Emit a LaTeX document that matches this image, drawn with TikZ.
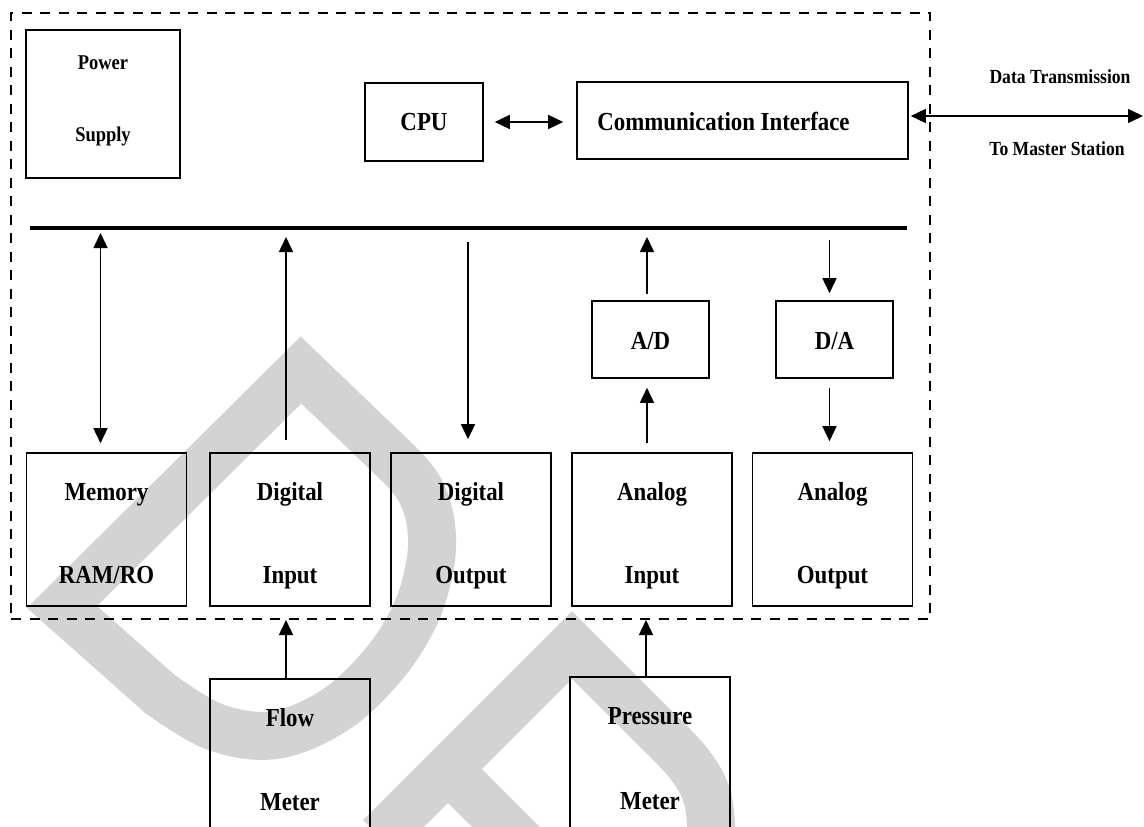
\documentclass[tikz,border=0pt]{standalone}
\usepackage{fontspec}
\newfontfamily\blockfont[FakeStretch=0.88]{Liberation Serif}
\usetikzlibrary{arrows.meta,calc}
\definecolor{wmgray}{RGB}{211,211,211}
\begin{document}
\begin{tikzpicture}[x=1pt,y=-1pt,
  >={Triangle[length=15pt,width=14pt]},
  blk/.style={draw,line width=1.6pt,rectangle,inner sep=0pt},
  txt/.style={font=\blockfont\bfseries\fontsize{26}{30}\selectfont,inner sep=0pt,anchor=base},
  txtmd/.style={font=\blockfont\bfseries\fontsize{21}{25}\selectfont,inner sep=0pt,anchor=base},
  txtsm/.style={font=\blockfont\bfseries\fontsize{20}{24}\selectfont,inner sep=0pt,anchor=base},
  conn/.style={line width=1.5pt},
  rowbox/.style={blk,minimum width=160pt,minimum height=153pt},
  wmstroke/.style={draw=wmgray,line width=48pt,line join=miter}]
\useasboundingbox (0,0) rectangle (1144,827);
\clip (0,0) rectangle (1144,827);

% background watermark letters
\draw[wmstroke] (62,607) -- (301,370) -- (400,465)
  -- plot[smooth,tension=0.6] coordinates {(400,465) (420,490) (431,525) (430,565) (415,615) (383,665) (335,710) (275,735) (215,727) (160,694)}
  -- cycle;
\draw[wmstroke] (380,837) -- (572,645) -- (655,728)
  -- plot[smooth,tension=0.6] coordinates {(655,728) (690,765) (708,800) (712,850)};
\draw[wmstroke] (448,769) -- (530,851);

% RTU enclosure
\node[draw,line width=2pt,dash pattern=on 10pt off 8.5pt,minimum width=919pt,minimum height=606pt,inner sep=0pt] (rtu) at (470.5,316) {};

% top row
\node[blk,minimum width=154pt,minimum height=148pt] (psu) at (103,104) {};
\node[txtmd] (psuA) at ($(psu.north)+(0,40)$) {Power};
\node[txtmd] (psuB) at ($(psu.north)+(0,112)$) {Supply};

\node[blk,minimum width=118pt,minimum height=78pt] (cpu) at (424,122) {};
\node[txt] (cpuT) at ($(cpu.center)+(0,8)$) {CPU};

\node[blk,minimum width=331pt,minimum height=77pt] (comm) at (742.5,120.5) {};
\node[txt,anchor=base west] (commT) at ($(comm.west)+(21,9.5)$) {Communication Interface};

\node[txtsm] (dataA) at (1060,83) {Data Transmission};
\node[txtsm] (dataB) at (1057,155) {To Master Station};
\coordinate (master) at (1143,116);

% system bus
\coordinate (busL) at (30,228);
\coordinate (busR) at (907,228);
\draw[line width=3.5pt] (busL) -- (busR);

% converters
\node[blk,minimum width=117pt,minimum height=77pt] (ad) at (650.5,339.5) {};
\node[txt] (adT) at ($(ad.center)+(0,9.5)$) {A/D};
\node[blk,minimum width=117pt,minimum height=77pt] (da) at (834.5,339.5) {};
\node[txt] (daT) at ($(da.center)+(0,9.5)$) {D/A};

% bottom row modules
\node[rowbox] (mem)  at (106.5,529.5) {};
\node[rowbox] (din)  at (290,529.5) {};
\node[rowbox] (dout) at (471,529.5) {};
\node[rowbox] (ain)  at (652,529.5) {};
\node[rowbox] (aout) at (832.5,529.5) {};
\node[txt] (memA)  at ($(mem.north)+(0,48)$) {Memory};
\node[txt] (memB)  at ($(mem.north)+(0,131)$) {RAM/RO};
\node[txt] (dinA)  at ($(din.north)+(0,48)$) {Digital};
\node[txt] (dinB)  at ($(din.north)+(0,131)$) {Input};
\node[txt] (doutA) at ($(dout.north)+(0,48)$) {Digital};
\node[txt] (doutB) at ($(dout.north)+(0,131)$) {Output};
\node[txt] (ainA)  at ($(ain.north)+(0,48)$) {Analog};
\node[txt] (ainB)  at ($(ain.north)+(0,131)$) {Input};
\node[txt] (aoutA) at ($(aout.north)+(0,48)$) {Analog};
\node[txt] (aoutB) at ($(aout.north)+(0,131)$) {Output};

% field instruments
\node[blk,minimum width=160pt,minimum height=230pt] (flow) at (290,794) {};
\node[txt] (flowA) at ($(flow.north)+(0,48)$) {Flow};
\node[txt] (flowB) at ($(flow.north)+(0,132)$) {Meter};
\node[blk,minimum width=160pt,minimum height=230pt] (pres) at (650,792) {};
\node[txt] (presA) at ($(pres.north)+(0,48)$) {Pressure};
\node[txt] (presB) at ($(pres.north)+(0,133)$) {Meter};

% connectors
\draw[conn,<->] ($(cpu.east)+(11,0)$) -- ($(comm.west |- cpu.east)+(-13,0)$);
\draw[conn,<->] ($(comm.east |- master)+(2,0)$) -- (master);
\draw[conn,<->] ($(mem.north)+(-6,-9)$) -- ($(mem.north |- busL)+(-6,5)$);
\draw[conn,->] ($(din.north)+(-4,-12)$) -- ($(din.north |- busL)+(-4,9)$);
\draw[conn,->] ($(dout.north |- busL)+(-3,14)$) -- ($(dout.north)+(-3,-13)$);
\draw[conn,->] ($(ad.north)+(-3.5,-6)$) -- ($(ad.north |- busL)+(-3.5,9)$);
\draw[conn,->] ($(da.north |- busL)+(-5,12)$) -- ($(da.north)+(-5,-7)$);
\draw[conn,->] ($(ad.south |- ain.north)+(-3.5,-9)$) -- ($(ad.south)+(-3.5,9)$);
\draw[conn,->] ($(da.south)+(-5,9)$) -- ($(da.south |- aout.north)+(-5,-11)$);
\draw[conn,->] ($(flow.north)+(-4,0)$) -- ($(flow.north |- rtu.south)+(-4,0)$);
\draw[conn,->] ($(pres.north)+(-4,0)$) -- ($(pres.north |- rtu.south)+(-4,0)$);
\end{tikzpicture}
\end{document}
